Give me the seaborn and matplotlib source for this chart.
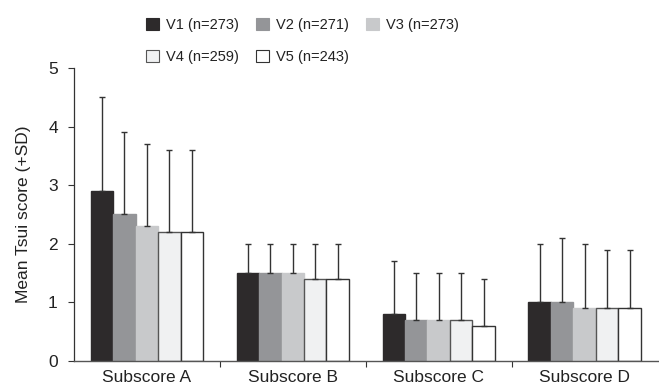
import pandas as pd
import matplotlib
matplotlib.use('Agg')
import matplotlib.pyplot as plt
import seaborn as sns
from matplotlib.patches import Patch

# data
subscores = ['Subscore A', 'Subscore B', 'Subscore C', 'Subscore D']
visits = ['V1 (n=273)', 'V2 (n=271)', 'V3 (n=273)', 'V4 (n=259)', 'V5 (n=243)']
v1_mean = [2.9, 1.5, 0.8, 1.0]
v2_mean = [2.5, 1.5, 0.7, 1.0]
v3_mean = [2.3, 1.5, 0.7, 0.9]
v4_mean = [2.2, 1.4, 0.7, 0.9]
v5_mean = [2.2, 1.4, 0.6, 0.9]
v1_sd = [1.6, 0.5, 0.9, 1.0]
v2_sd = [1.4, 0.5, 0.8, 1.1]
v3_sd = [1.4, 0.5, 0.8, 1.1]
v4_sd = [1.4, 0.6, 0.8, 1.0]
v5_sd = [1.4, 0.6, 0.8, 1.0]

fills = ['#2d2a2b', '#949598', '#c8c9cb', '#f0f1f2', '#ffffff']
edges = ['#2d2a2b', '#949598', '#c8c9cb', '#555555', '#333333']

means = [v1_mean, v2_mean, v3_mean, v4_mean, v5_mean]
sds = [v1_sd, v2_sd, v3_sd, v4_sd, v5_sd]

rows = []
for v, m, s in zip(visits, means, sds):
    for sub, mm, ss in zip(subscores, m, s):
        rows.append({'subscore': sub, 'visit': v, 'mean': mm, 'sd': ss})
df = pd.DataFrame(rows)

sns.set_style('ticks')
plt.rcParams['font.family'] = ['Liberation Sans', 'DejaVu Sans']

fig, ax = plt.subplots(figsize=(6.59, 3.87), dpi=100)
fig.subplots_adjust(left=0.112, right=0.998, bottom=0.068, top=0.824)

sns.barplot(data=df, x='subscore', y='mean', hue='visit', order=subscores,
            hue_order=visits, palette=fills, errorbar=None, width=0.77,
            saturation=1, ax=ax, legend=False)

bar_conts = list(ax.containers)
for i, cont in enumerate(bar_conts):
    xs, ys = [], []
    for bar in cont.patches:
        bar.set_edgecolor(edges[i])
        bar.set_linewidth(1.0)
        xs.append(bar.get_x() + bar.get_width() / 2)
        ys.append(bar.get_height())
    ax.errorbar(xs, ys, yerr=[[0] * len(sds[i]), sds[i]], fmt='none',
                ecolor='#333333', elinewidth=1.0, capsize=2.5, capthick=1.0,
                zorder=1)

ax.set_ylim(0, 5)
ax.set_xlim(-0.5, 3.5)
ax.set_yticks([0, 1, 2, 3, 4, 5])
ax.tick_params(axis='y', labelsize=12.5, length=4.5, width=0.8,
               color='#333333', pad=7, labelcolor='#222222')
ax.set_xticks([0.5, 1.5, 2.5], minor=True)
ax.tick_params(axis='x', which='major', length=0, labelsize=12.5, pad=7,
               labelcolor='#222222')
ax.tick_params(axis='x', which='minor', length=4, width=0.8, color='#333333')
ax.set_xlabel('')
ax.set_ylabel('Mean Tsui score (+SD)', fontsize=12.5, color='#222222',
              labelpad=12)
for sp in ['top', 'right']:
    ax.spines[sp].set_visible(False)
ax.spines['left'].set_color('#333333')
ax.spines['bottom'].set_color('#555555')
ax.spines['left'].set_linewidth(0.9)
ax.spines['bottom'].set_linewidth(1.0)

handles = [Patch(facecolor=f, edgecolor=e, linewidth=0.8) for f, e in zip(fills, edges)]
order = [0, 3, 1, 4, 2]
leg = fig.legend([handles[k] for k in order], [visits[k] for k in order],
                 ncol=3, loc='center', bbox_to_anchor=(0.459, 0.894),
                 frameon=False, fontsize=10.5, handlelength=0.85,
                 handleheight=0.85, handletextpad=0.5, columnspacing=1.2,
                 labelspacing=1.2)
for t in leg.get_texts():
    t.set_color('#222222')

fig.savefig('out.png', dpi=100)
